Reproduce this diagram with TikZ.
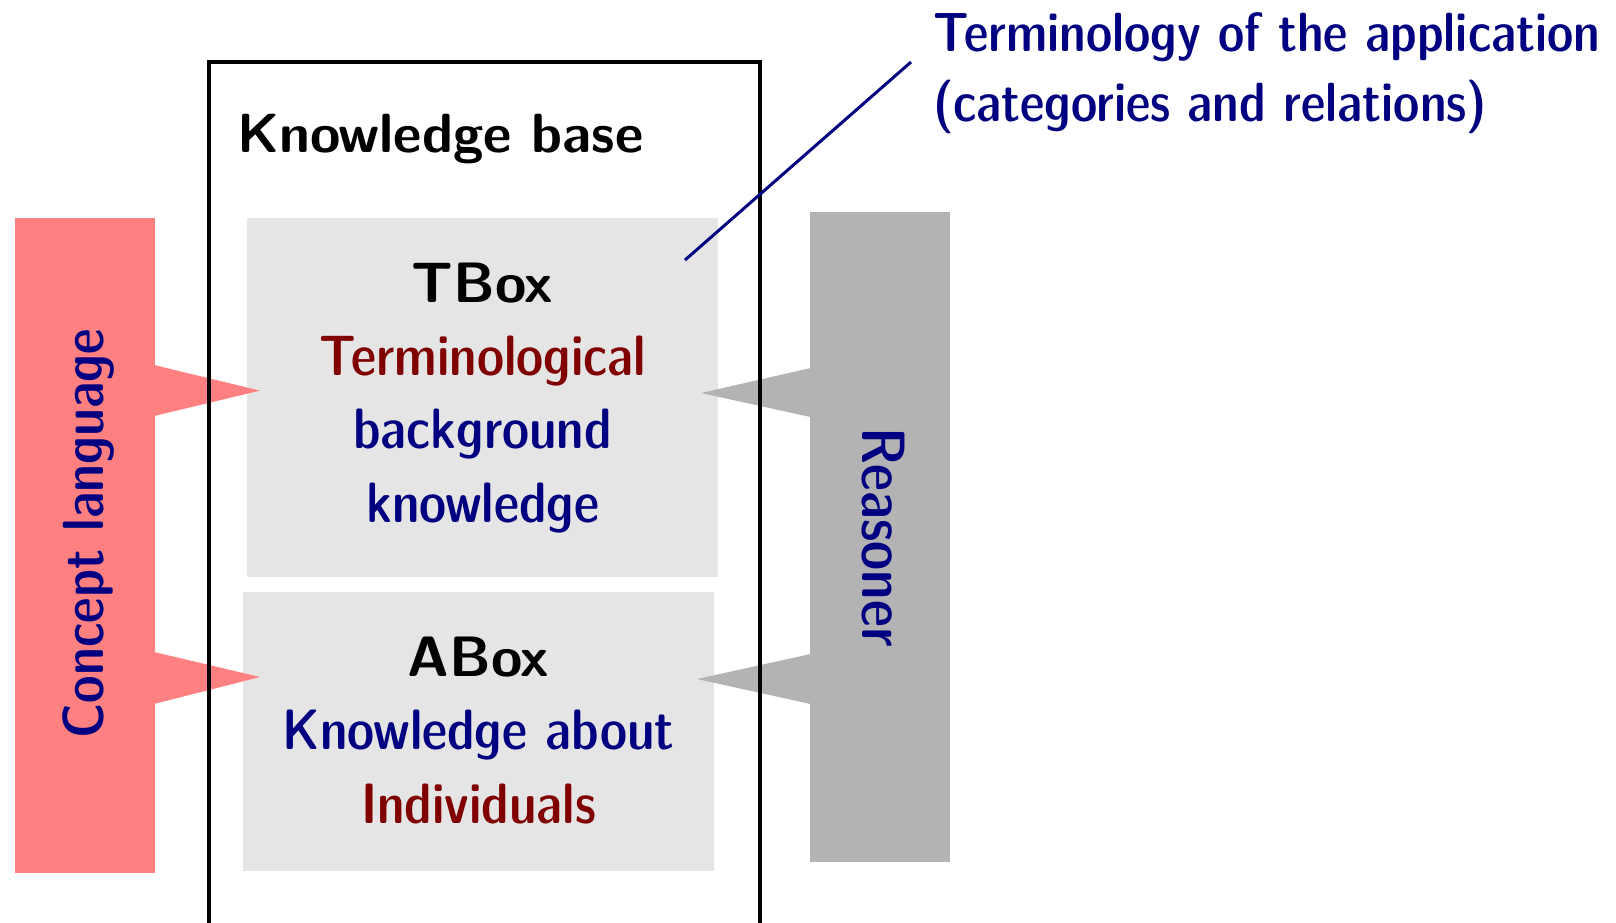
\documentclass[tikz,border=0pt]{standalone}
\definecolor{calloutpink}{RGB}{255,128,128}
\definecolor{panelgray}{RGB}{229,229,229}
\definecolor{reasongray}{RGB}{179,179,179}
\definecolor{navy}{RGB}{0,0,128}
\definecolor{darkred}{RGB}{128,0,0}
\newcommand\condfont{\usefont{TU}{lmss}{sbc}{n}}
\newcommand\widefont{\usefont{TU}{lmss}{bx}{n}}
\begin{document}
\begin{tikzpicture}[x=0.1mm,y=-0.1mm,
  block/.style={rectangle,draw=none,inner sep=0pt,outer sep=0pt},
  condtext/.style={inner sep=0pt,outer sep=0pt,font=\fontsize{16.2}{20.8}\selectfont\condfont},
  sidetext/.style={inner sep=0pt,outer sep=0pt,text=navy},
  titletext/.style={inner sep=0pt,outer sep=0pt,font=\fontsize{15.7}{20.8}\selectfont\widefont},
]
\useasboundingbox (0,0) rectangle (1616,922);
\clip (0,0) rectangle (1616,922);

% grey panels for the two boxes
\node[block, fill=panelgray, minimum width=47.1mm, minimum height=35.95mm] (tbox) at (482.5,397.25) {};
\node[block, fill=panelgray, minimum width=47.1mm, minimum height=27.9mm] (abox) at (478.5,731.5) {};

% concept language callout
\node[block, fill=calloutpink, minimum width=14.01mm, minimum height=65.55mm] (concept) at (84.55,545.25) {};
\coordinate (cTipT) at (260,390.6);
\coordinate (cTipA) at (260,677);
\fill[calloutpink] (150,364) -- (cTipT) -- (150,417) -- cycle;
\fill[calloutpink] (150,651) -- (cTipA) -- (150,705) -- cycle;

% reasoner callout
\node[block, fill=reasongray, minimum width=14mm, minimum height=65mm] (reasoner) at (880,537) {};
\coordinate (rTipT) at (701,393);
\coordinate (rTipA) at (697,679);
\fill[reasongray] (815,367) -- (rTipT) -- (815,418) -- cycle;
\fill[reasongray] (815,653) -- (rTipA) -- (815,705) -- cycle;

% knowledge base frame, running past the lower edge
\node[block, draw=black, line width=1.2pt, minimum width=55.1mm, minimum height=95mm, anchor=north west] (kb) at (209,62) {};

% pointer to the terminology note
\coordinate (noteEnd) at (911,62);
\coordinate (tboxPt) at (685,260);
\draw[navy, line width=0.85pt] (tboxPt) -- (noteEnd);

% texts (multi-line nodes are placed by their last baseline)
\node[titletext, anchor=base west] (kbtitle) at (237,152.5) {Knowledge base};
\node[condtext, align=center, anchor=base] (tboxtext) at (482.5,522)
  {{\widefont TBox}\\ \textcolor{darkred}{Terminological}\\ \textcolor{navy}{background}\\ \textcolor{navy}{knowledge}};
\node[condtext, align=center, anchor=base] (aboxtext) at (478.5,823)
  {{\widefont ABox}\\ \textcolor{navy}{Knowledge about}\\ \textcolor{darkred}{Individuals}};
\node[sidetext, rotate=90, anchor=base, font=\fontsize{16.5}{20}\selectfont\condfont] (concepttext) at (103,533.5) {Concept language};
\node[sidetext, rotate=-90, anchor=base, font=\fontsize{17.4}{20}\selectfont\condfont] (reasonertext) at (862,537) {Reasoner};
\node[condtext, text=navy, align=left, anchor=base west, font=\fontsize{15.7}{19.9}\selectfont\condfont] (note) at (933,121.6)
  {Terminology of the application\\(categories and relations)};
\end{tikzpicture}
\end{document}
